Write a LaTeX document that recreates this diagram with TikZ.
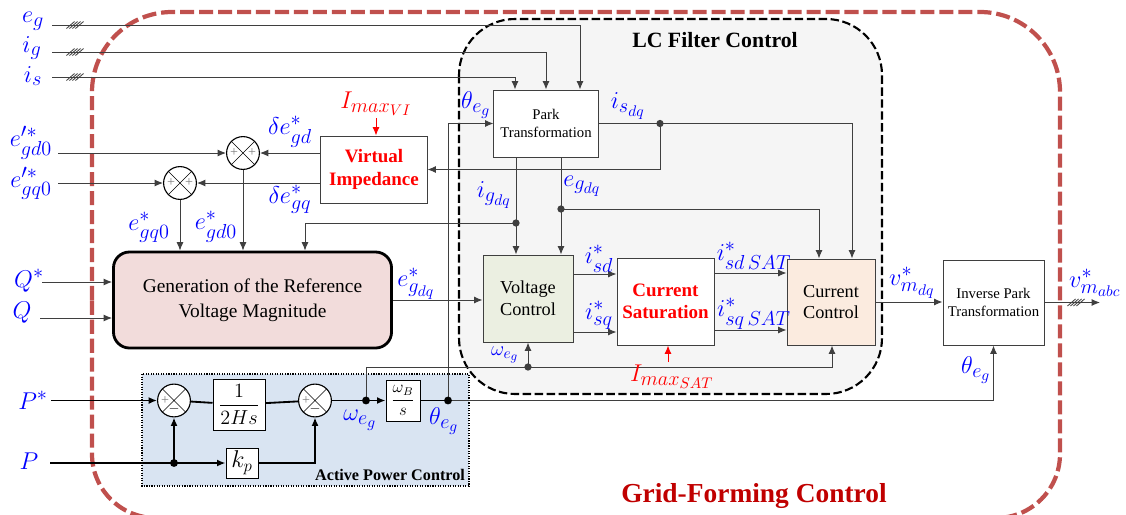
\documentclass[tikz,border=0pt]{standalone}
\usepackage{amsmath}
\usepackage{fontspec}
\setmainfont{Liberation Serif}
\usetikzlibrary{calc,arrows.meta}
\renewcommand\defaultscriptratio{.78}
\renewcommand\defaultscriptscriptratio{.62}
\definecolor{colorgfm}{HTML}{C0504D}
\definecolor{colortitle}{HTML}{C00000}
\definecolor{colorwire}{HTML}{3F3F3F}
\definecolor{colorlc}{HTML}{F5F5F5}
\definecolor{colorgen}{HTML}{F2DCDB}
\definecolor{colorvc}{HTML}{EBEFE1}
\definecolor{colorcc}{HTML}{FBEBDF}
\definecolor{colorapc}{HTML}{D9E4F2}
\tikzset{
  wire/.style={colorwire, line width=0.7pt},
  sig/.style={wire, -{Latex[length=6pt,width=5pt]}},
  wireapc/.style={black, line width=1.3pt},
  sigapc/.style={wireapc, -{Latex[length=6pt,width=5pt]}},
  sigred/.style={red, line width=0.7pt, -{Latex[length=6pt,width=5pt]}},
  blk/.style={draw=colorwire, line width=0.7pt, fill=white, align=center, inner sep=0pt, font=\fontsize{13}{15.5}\selectfont},
  blkred/.style={blk, text=red, font=\fontsize{13.5}{16}\selectfont\bfseries},
  sumnode/.style={circle, draw=black, line width=0.8pt, fill=white, minimum size=0.82cm, inner sep=0pt},
  sgn/.style={text=gray, font=\fontsize{10}{10}\selectfont, inner sep=0pt},
  lbl/.style={text=blue, font=\fontsize{18.5}{20}\selectfont, inner sep=0pt},
  lblred/.style={lbl, text=red}
}
\newcommand\busmark[1]{\foreach \k in {-4.5,-1.5,1.5,4.5} {\draw[wire, line width=0.6pt] ($(#1)+(\k-4,3.5)$) -- ($(#1)+(\k+4,-3.5)$);}}

\begin{document}
\begin{tikzpicture}[x=0.025cm, y=-0.025cm]
\useasboundingbox (0,0) rectangle (1126,514);
% frames
\draw[colorgfm, line width=3pt, dash pattern=on 10pt off 3.5pt] (92,300) [rounded corners=2cm] -- (92,12) -- (1060,12) -- (1060,300) [rounded corners=1.6cm] -- (1060,518) -- (92,518) -- (92,300);
\draw[black, line width=1.5pt, dash pattern=on 6pt off 2.5pt, fill=colorlc, rounded corners=1.4cm] (459,19) rectangle (882,394);
\draw[black, line width=0.8pt, densely dotted, fill=colorapc] (142,374) rectangle (469,486);
\node[font=\fontsize{15.5}{18}\selectfont\bfseries] (lctitle) at (715,40) {LC Filter Control};
\node[font=\fontsize{11.5}{14}\selectfont\bfseries] (apctitle) at (390,475) {Active Power Control};
\node[text=colortitle, font=\fontsize{19.5}{22}\selectfont\bfseries] (gfmtitle) at (754,496) {Grid-Forming Control};

% blocks
\node[blk, minimum width=2.6cm, minimum height=1.675cm, font=\fontsize{10.5}{13}\selectfont] (park) at (546,123.5) {Park\\Transformation};
\node[blkred, minimum width=2.65cm, minimum height=1.675cm] (vi) at (374,169.5) {Virtual\\Impedance};
\node[blk, draw=black, line width=2pt, fill=colorgen, rounded corners=0.4cm, minimum width=6.95cm, minimum height=2.4cm, font=\fontsize{13.8}{17.5}\selectfont] (gen) at (252.5,300) {Generation of the Reference\\Voltage Magnitude};
\node[blk, fill=colorvc, minimum width=2.25cm, minimum height=2.175cm] (vc) at (528,298.5) {Voltage\\Control};
\node[blkred, minimum width=2.425cm, minimum height=2.175cm] (cs) at (665.5,301.5) {Current\\Saturation};
\node[blk, fill=colorcc, minimum width=2.2cm, minimum height=2.15cm] (cc) at (831,302) {Current\\Control};
\node[blk, minimum width=2.525cm, minimum height=2.125cm, font=\fontsize{10.5}{13}\selectfont] (ipt) at (993.5,302.5) {Inverse Park\\Transformation};
\node[blk, draw=black, minimum width=1.3cm, minimum height=1.275cm, font=\fontsize{14}{16}\selectfont] (hs) at (239,404.5) {$\dfrac{1}{2Hs}$};
\node[blk, draw=black, minimum width=0.85cm, minimum height=1.025cm, font=\fontsize{12}{14}\selectfont] (wb) at (403,400.5) {$\dfrac{\omega_B}{s}$};
\node[blk, draw=black, minimum width=0.8cm, minimum height=0.75cm, font=\fontsize{16}{18}\selectfont] (kp) at (242,463) {$k_p$};

% summing points
\node[sumnode] (s1) at (243,153) {};
\node[sumnode] (s2) at (180,183) {};
\node[sumnode] (s3) at (174,400.5) {};
\node[sumnode] (s4) at (315,400.5) {};
\foreach \s in {s1,s2,s3,s4}
  \draw (\s.north west) -- (\s.south east) (\s.north east) -- (\s.south west);
\foreach \s in {s1,s2} {
  \node[sgn] (\s-l) at ($(\s)+(-9,0)$) {+};
  \node[sgn] (\s-r) at ($(\s)+(9,0)$) {+};
}
\foreach \s in {s3,s4} {
  \node[sgn] (\s-l) at ($(\s)+(-9,0)$) {+};
  \node[sgn, text=black] (\s-b) at ($(\s)+(0,8)$) {$-$};
}

% free ends and branch points
\coordinate (egin) at (52,25);
\coordinate (igin) at (52,52);
\coordinate (isin) at (52,77);
\coordinate (edin) at (58,153);
\coordinate (eqin) at (58,183);
\coordinate (qsin) at (42,282);
\coordinate (qin) at (40,318);
\coordinate (psin) at (51,400.5);
\coordinate (pin) at (50,463);
\coordinate (isdot) at (660,123.5);
\coordinate (egdot) at (561,209);
\coordinate (igdot) at (516,223);
\coordinate (pdot) at (174,463);
\coordinate (wdot) at (366,400.5);
\coordinate (thdot) at (448,400.5);
\coordinate (vcdot) at (528,367);
\coordinate (wbend) at (832,367);
\coordinate (vout) at (1100,302.5);
\coordinate (vimax) at (376,118);
\coordinate (csmax) at (668,362);

% LC filter control signals
\draw[sig] (egin) -| (580,0 |- park.north);
\draw[sig] (igin) -| (546,0 |- park.north);
\draw[sig] (isin) -| (515,0 |- park.north);
\draw[sig] (thdot) |- (park.west);
\draw[sig] (park.east) -| (852,0 |- cc.north);
\draw[sig] (isdot) |- (vi.east);
\draw[sig] (561,0 |- park.south) -- (561,0 |- vc.north);
\draw[sig] (egdot) -| (819,0 |- cc.north);
\draw[sig] (516,0 |- park.south) -- (516,0 |- vc.north);
\draw[sig] (igdot) -| (305,0 |- gen.north);
\draw[sig] (vi.west |- s1) -- (s1);
\draw[sig] (vi.west |- s2) -- (s2);
\draw[sig] (edin) -- (s1);
\draw[sig] (eqin) -- (s2);
\draw[sig] (s1) -- (s1 |- gen.north);
\draw[sig] (s2) -- (s2 |- gen.north);
\draw[sig] (qsin) -- (qsin -| gen.west);
\draw[sig] (qin) -- (qin -| gen.west);
\draw[sig] (gen.east) -- (gen.east -| vc.west);
\draw[sig] (vc.east |- 0,274) -- (cs.west |- 0,274);
\draw[sig] (vc.east |- 0,332) -- (cs.west |- 0,332);
\draw[sig] (cs.east |- 0,273) -- (cc.west |- 0,273);
\draw[sig] (cs.east |- 0,330) -- (cc.west |- 0,330);
\draw[sig] (wdot) |- (wbend) -- (wbend |- cc.south);
\draw[sig] (vcdot) -- (vcdot |- vc.south);
\draw[sig] (cc.east) -- (cc.east -| ipt.west);
\draw[sig] (ipt.east) -- (vout);
\draw[sig] (thdot) -| (ipt.south);
\draw[sigred] (vimax) -- (vimax |- vi.north);
\draw[sigred] (csmax) -- (csmax |- cs.south);

% active power control
\draw[sigapc] (psin) -- (s3);
\draw[wireapc] (s3) -- (hs);
\draw[wireapc] (hs) -- (s4);
\draw[wireapc] (s4) -- (wdot);
\draw[sigapc] (wdot) -- (wb);
\draw[wireapc] (wb) -- (thdot);
\draw[sigapc] (pin) -- (kp);
\draw[sigapc] (pdot) -- (s3);
\draw[sigapc] (kp) -| (s4);

\foreach \d in {isdot,egdot,igdot,vcdot} \fill[colorwire] (\d) circle (2.6pt);
\foreach \d in {pdot,wdot,thdot} \fill (\d) circle (2.8pt);
\foreach \b in {{75,25},{75,52},{75,77},{1076,302.5}} {\busmark{\b}}

% signal names
\node[lbl] (eglbl) at (33,21) {$e_g$};
\node[lbl] (iglbl) at (32,48) {$i_g$};
\node[lbl] (islbl) at (33,76) {$i_s$};
\node[lbl, font=\fontsize{17.5}{19}\selectfont] (edlbl) at (31,143) {$e'^{*}_{gd0}$};
\node[lbl, font=\fontsize{17.5}{19}\selectfont] (eqlbl) at (31,183) {$e'^{*}_{gq0}$};
\node[lbl] (dedlbl) at (290,132) {$\delta e^*_{gd}$};
\node[lbl] (deqlbl) at (290,199) {$\delta e^*_{gq}$};
\node[lbl] (eq0lbl) at (149,227) {$e^*_{gq0}$};
\node[lbl] (ed0lbl) at (216,227) {$e^*_{gd0}$};
\node[lblred] (vimaxlbl) at (376,104) {$I_{max_{VI}}$};
\node[lbl] (thlbl) at (476,105) {$\theta_{e_g}$};
\node[lbl] (isdqlbl) at (628,106) {$i_{s_{dq}}$};
\node[lbl] (igdqlbl) at (494,195) {$i_{g_{dq}}$};
\node[lbl] (egdqlbl) at (582,186) {$e_{g_{dq}}$};
\node[lbl] (qslbl) at (29,281) {$Q^*$};
\node[lbl] (qlbl) at (22,313) {$Q$};
\node[lbl] (ereflbl) at (416,284) {$e^*_{g_{dq}}$};
\node[lbl] (pslbl) at (33,400) {$P^*$};
\node[lbl] (plbl) at (29,461) {$P$};
\node[lbl] (wlbl) at (360,420) {$\omega_{e_g}$};
\node[lbl] (thlblb) at (444,421) {$\theta_{e_g}$};
\node[lbl, font=\fontsize{14.5}{16}\selectfont] (wlblb) at (505,355) {$\omega_{e_g}$};
\node[lbl] (isdlbl) at (599,259) {$i^*_{sd}$};
\node[lbl] (isqlbl) at (599,315) {$i^*_{sq}$};
\node[lbl] (isdslbl) at (754,256) {$i^*_{sd\,SAT}$};
\node[lbl] (isqslbl) at (754,314) {$i^*_{sq\,SAT}$};
\node[lblred] (csmaxlbl) at (672,377) {$I_{max_{SAT}}$};
\node[lbl] (vdqlbl) at (912,283) {$v^*_{m_{dq}}$};
\node[lbl] (vabclbl) at (1095,283) {$v^*_{m_{abc}}$};
\node[lbl] (thlblc) at (976,370) {$\theta_{e_g}$};
\end{tikzpicture}
\end{document}
